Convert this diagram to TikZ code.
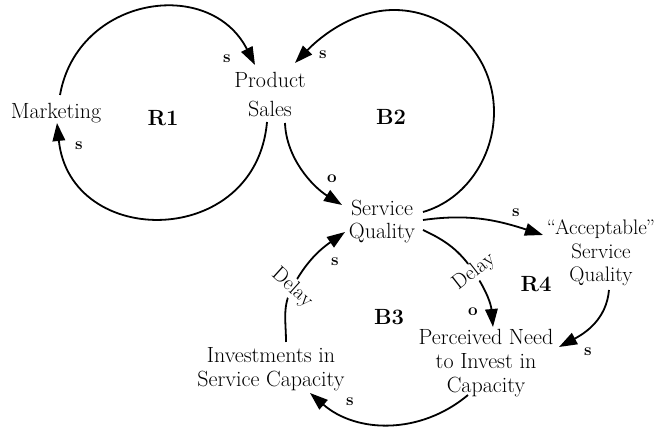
\documentclass[tikz,border=0pt]{standalone}
\usetikzlibrary{arrows.meta,backgrounds}
\begin{document}
\begin{tikzpicture}[x=1pt,y=1pt,
  var/.style={align=center, inner sep=1pt, font=\fontsize{22}{24}\selectfont},
  loopname/.style={font=\fontsize{22}{22}\selectfont\bfseries, inner sep=0pt},
  pol/.style={font=\fontsize{17}{17}\selectfont\bfseries, inner sep=0pt},
  delaylbl/.style={font=\fontsize{21}{21}\selectfont, fill=white, inner sep=0.5pt},
  link/.style={line width=1.8pt, -{Triangle[length=18pt,width=12.5pt]}},
]
\useasboundingbox (0,0) rectangle (662,430);

% variables
\node[var] (mkt) at (56,317) {Marketing};
\node[var] (ps) at (270,335) {Product\\[5pt]Sales};
\node[var, font=\fontsize{22}{23}\selectfont] (sq) at (382,208.5) {Service\\Quality};
\node[var, font=\fontsize{21}{23.5}\selectfont] (acc) at (601,177)
  {\textquotedblleft\kern-1pt Acceptable\kern-1pt\textquotedblright\\Service\\Quality};
\node[var] (pn) at (486,67) {Perceived Need\\to Invest in\\Capacity};
\node[var] (inv) at (271,60.5) {Investments in\\Service Capacity};

% loop names
\node[loopname] (r1) at (163,312) {R1};
\node[loopname] (b2) at (391,313) {B2};
\node[loopname] (r4) at (536,146) {R4};
\node[loopname] (b3) at (389,113) {B3};

% delay marks
\node[delaylbl, rotate=-42] (d1) at (292,142) {Delay};
\node[delaylbl, rotate=38] (d2) at (474,158) {Delay};

% link polarities
\node[pol] (p1) at (227,371) {s};
\node[pol] (p2) at (79,284) {s};
\node[pol] (p3) at (323,375) {s};
\node[pol] (p4) at (332,251) {o};
\node[pol] (p5) at (516,217) {s};
\node[pol] (p6) at (473,118) {o};
\node[pol] (p7) at (588,78) {s};
\node[pol] (p8) at (350,28) {s};
\node[pol] (p9) at (335,168) {s};

\begin{pgfonlayer}{background}
\fill[white] (0,0) rectangle (662,430);
% R1
\draw[link] ([shift={(4,18)}]mkt.center) to[out=80,in=117,looseness=1.3] ([shift={(-15,30)}]ps.center);
\draw[link] ([shift={(-3,-27)}]ps.center) to[out=-95,in=-84,looseness=1.55] ([shift={(1,-10)}]mkt.center);
% B2
\draw[link] ([shift={(41,9.5)}]sq.center) to[out=16,in=-90,looseness=0.93] ++(71,100)
  to[out=90,in=0,looseness=1] ++(-100,102)
  to[out=180,in=46,looseness=0.89] ([shift={(25,32)}]ps.center);
\draw[link] ([shift={(15,-28)}]ps.center) to[out=-88,in=148,looseness=0.9] ([shift={(-40,16.5)}]sq.center);
% R4 / B3
\draw[link] ([shift={(41,1.5)}]sq.center) to[out=8,in=162] ([shift={(-58,18)}]acc.center);
\draw[link] ([shift={(41,-8.5)}]sq.center) to[out=-25,in=124] (d2.center) to[out=-56,in=95] ([shift={(7,36)}]pn.center);
\draw[link] ([shift={(8,-37)}]acc.center) to[out=-95,in=28] ([shift={(73,16)}]pn.center);
\draw[link] ([shift={(-18,-32)}]pn.center) to[out=-140,in=-41] ([shift={(39,-23.5)}]inv.center);
\draw[link] ([shift={(15,27.5)}]inv.center) to[out=90,in=-118] (d1.center) to[out=62,in=215] ([shift={(-37,-10.5)}]sq.center);
\end{pgfonlayer}
\end{tikzpicture}
\end{document}
